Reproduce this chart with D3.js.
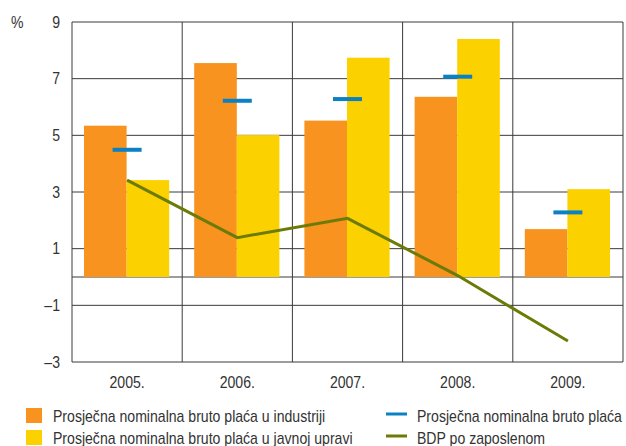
<!DOCTYPE html>
<html>
<head>
<meta charset="utf-8">
<script src="https://cdn.jsdelivr.net/npm/d3@7"></script>
<style>
  body { margin: 0; background: #fff; }
  svg text { font-family: "Liberation Sans", Arial, sans-serif; fill: #333; }
</style>
</head>
<body>
<div id="chart"></div>
<script>
// data
var years = ["2005.", "2006.", "2007.", "2008.", "2009."];
var industrija = [5.34, 7.55, 5.52, 6.36, 1.69];
var javnaUprava = [3.42, 5.01, 7.74, 8.40, 3.10];
var prosjek = [4.49, 6.22, 6.28, 7.07, 2.28];
var bdp = [3.42, 1.39, 2.07, 0.05, -2.26];
var yTicks = [9, 7, 5, 3, 1, -1, -3];
var yTickLabels = ["9", "7", "5", "3", "1", "\u20131", "\u20133"];
var legendNames = [
  "Prosječna nominalna bruto plaća u industriji",
  "Prosječna nominalna bruto plaća u javnoj upravi",
  "Prosječna nominalna bruto plaća",
  "BDP po zaposlenom"
];

(function() {
    var width = 626, height = 446,
        m = { left: 72, right: 623, top: 22, bottom: 362 };

    var colors = { ind: "#f7931e", jav: "#fcd100", avg: "#0b80c2", bdp: "#6b7b06", grid: "#3a3a3a" };

    var svg = d3.select("#chart").append("svg")
        .attr("width", width).attr("height", height);

    var x = d3.scaleBand().domain(years).range([m.left, m.right]);
    var xSub = d3.scaleBand().domain(["ind", "jav"]).range([12, x.bandwidth() - 13]);
    var y = d3.scaleLinear().domain([-3, 9]).range([m.bottom, m.top]);

    // grid
    var grid = svg.append("g").attr("stroke", colors.grid).attr("stroke-width", 1);
    grid.selectAll("line.h").data(yTicks.concat([0])).enter().append("line")
        .attr("class", "h")
        .attr("x1", m.left).attr("x2", m.right)
        .attr("y1", function(d) { return y(d); })
        .attr("y2", function(d) { return y(d); });
    grid.selectAll("line.v").data(years.concat(["end"])).enter().append("line")
        .attr("class", "v")
        .attr("x1", function(d) { return d === "end" ? m.right : x(d); })
        .attr("x2", function(d) { return d === "end" ? m.right : x(d); })
        .attr("y1", m.top).attr("y2", m.bottom);

    // bars
    var bars = svg.append("g");
    bars.selectAll("rect.ind").data(industrija).enter().append("rect")
        .attr("class", "ind")
        .attr("x", function(d, i) { return x(years[i]) + xSub("ind"); })
        .attr("width", xSub.bandwidth())
        .attr("y", function(d) { return y(d); })
        .attr("height", function(d) { return y(0) - y(d); })
        .attr("fill", colors.ind);
    bars.selectAll("rect.jav").data(javnaUprava).enter().append("rect")
        .attr("class", "jav")
        .attr("x", function(d, i) { return x(years[i]) + xSub("jav"); })
        .attr("width", xSub.bandwidth())
        .attr("y", function(d) { return y(d); })
        .attr("height", function(d) { return y(0) - y(d); })
        .attr("fill", colors.jav);

    // BDP line
    var line = d3.line()
        .x(function(d, i) { return x(years[i]) + x.bandwidth() / 2; })
        .y(function(d) { return y(d); });
    svg.append("path").datum(bdp)
        .attr("d", line)
        .attr("fill", "none")
        .attr("stroke", colors.bdp)
        .attr("stroke-width", 3);

    // average wage dashes
    svg.append("g").selectAll("line").data(prosjek).enter().append("line")
        .attr("x1", function(d, i) { return x(years[i]) + x.bandwidth() / 2 - 14.5; })
        .attr("x2", function(d, i) { return x(years[i]) + x.bandwidth() / 2 + 14.5; })
        .attr("y1", function(d) { return y(d); })
        .attr("y2", function(d) { return y(d); })
        .attr("stroke", colors.avg)
        .attr("stroke-width", 4);

    // axes
    var yAxis = svg.append("g")
        .attr("transform", "translate(" + m.left + ",0)")
        .call(d3.axisLeft(y).tickValues(yTicks).tickSize(0).tickPadding(12)
            .tickFormat(function(d, i) { return yTickLabels[i]; }));
    yAxis.select(".domain").remove();

    var xAxis = svg.append("g")
        .attr("transform", "translate(0," + m.bottom + ")")
        .call(d3.axisBottom(x).tickSize(0).tickPadding(15));
    xAxis.select(".domain").remove();

    svg.append("text").attr("x", 11).attr("y", 28).text("%");

    // legend
    var legend = svg.append("g");
    [colors.ind, colors.jav].forEach(function(c, i) {
        legend.append("rect").attr("x", 26).attr("y", 408 + i * 22)
            .attr("width", 16).attr("height", 15).attr("fill", c);
        legend.append("text").attr("x", 53).attr("y", 422 + i * 22).text(legendNames[i]);
    });
    [colors.avg, colors.bdp].forEach(function(c, i) {
        legend.append("line").attr("x1", 386).attr("x2", 407)
            .attr("y1", 414 + i * 22).attr("y2", 414 + i * 22)
            .attr("stroke", c).attr("stroke-width", 3);
        legend.append("text").attr("x", 417).attr("y", 422 + i * 22).text(legendNames[i + 2]);
    });

    // the original uses a condensed face: squeeze text horizontally round its anchor
    svg.selectAll("text")
        .style("font-size", "16px")
        .attr("font-size", null)
        .attr("transform", function() {
            var ax = +(this.getAttribute("x") || 0);
            return "translate(" + ax + ",0) scale(0.88,1) translate(" + (-ax) + ",0)";
        });
})();
</script>
</body>
</html>
